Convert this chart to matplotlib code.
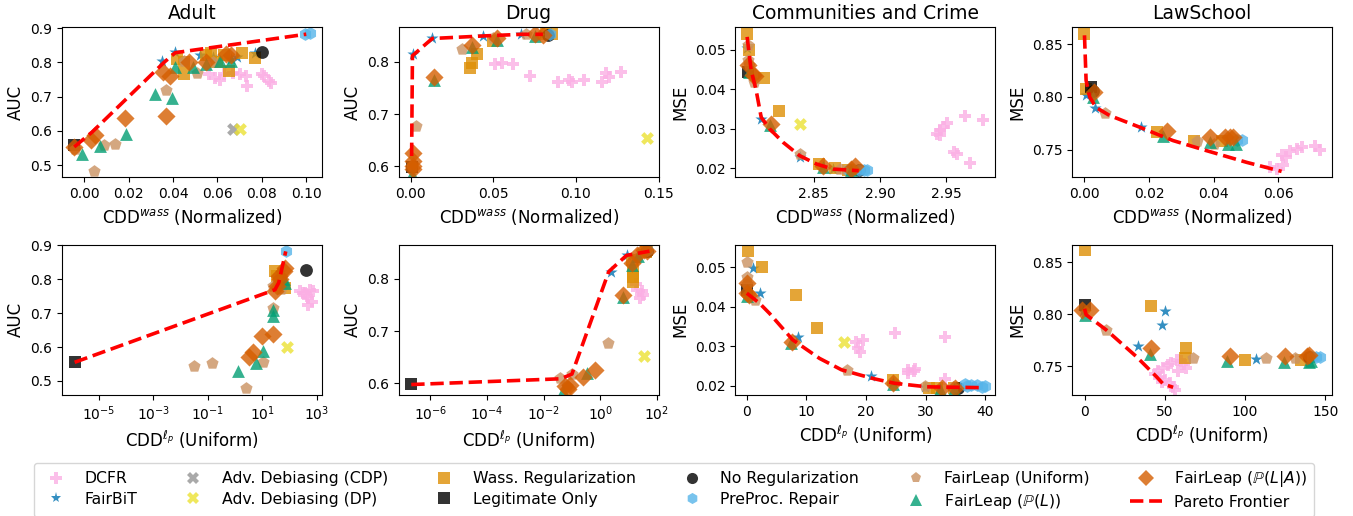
import matplotlib
matplotlib.use("Agg")
import matplotlib.pyplot as plt
from matplotlib.lines import Line2D
from matplotlib.ticker import NullLocator

# ---------------- styles (legend order) ----------------
methods = ["DCFR", "FairBiT", "Adv. Debiasing (CDP)", "Adv. Debiasing (DP)",
           "Wass. Regularization", "Legitimate Only", "No Regularization",
           "PreProc. Repair", "FairLeap (Uniform)",
           r"FairLeap ($\mathbb{P}(L)$)", r"FairLeap ($\mathbb{P}(L|A)$)"]
keys = ["dcfr", "fairbit", "adv_cdp", "adv_dp", "wass", "legit", "noreg",
        "preproc", "fl_unif", "fl_pl", "fl_pla"]
markers = ["P", "*", "X", "X", "s", "s", "o", "h", "p", "^", "D"]
colors = ["#fbafe4", "#0173b2", "#949494", "#ece133", "#de8f05", "black",
          "black", "#56b4e9", "#ca9161", "#029e73", "#d55e00"]

# ---------------- data: Adult, CDD^wass ----------------
adult_wass = {
    "dcfr": ([0.056, 0.059, 0.061, 0.063, 0.067, 0.070, 0.073, 0.0735, 0.080, 0.081, 0.083, 0.084],
             [0.765, 0.755, 0.748, 0.765, 0.768, 0.766, 0.760, 0.730, 0.767, 0.760, 0.745, 0.740]),
    "fairbit": ([0.035, 0.041, 0.052, 0.058, 0.066, 0.069, 0.077],
                [0.805, 0.830, 0.820, 0.815, 0.810, 0.815, 0.828]),
    "adv_cdp": ([0.067], [0.604]),
    "adv_dp": ([0.070], [0.606]),
    "wass": ([0.042, 0.045, 0.045, 0.055, 0.057, 0.060, 0.065, 0.071, 0.077, 0.063],
             [0.810, 0.800, 0.765, 0.820, 0.827, 0.800, 0.775, 0.828, 0.812, 0.820]),
    "legit": ([-0.0045], [0.558]),
    "noreg": ([0.080], [0.829]),
    "preproc": ([0.0995, 0.1015], [0.884, 0.885]),
    "fl_unif": ([-0.004, 0.0045, 0.009, 0.014, 0.037, 0.051, 0.045, 0.058],
                [0.547, 0.483, 0.558, 0.562, 0.718, 0.768, 0.805, 0.800]),
    "fl_pl": ([-0.001, 0.007, 0.019, 0.032, 0.0395, 0.041, 0.049, 0.055, 0.061, 0.066],
              [0.532, 0.557, 0.590, 0.708, 0.695, 0.787, 0.785, 0.795, 0.805, 0.805]),
    "fl_pla": ([-0.0045, 0.003, 0.005, 0.0185, 0.037, 0.0355, 0.0385, 0.047, 0.055, 0.064, 0.066],
               [0.553, 0.572, 0.587, 0.637, 0.643, 0.773, 0.760, 0.800, 0.800, 0.825, 0.820]),
}
adult_wass_pareto = ([-0.0045, 0.0035, 0.036, 0.041, 0.100], [0.553, 0.596, 0.800, 0.828, 0.882])

# ---------------- data: Drug, CDD^wass ----------------
drug_wass = {
    "dcfr": ([0.051, 0.055, 0.062, 0.072, 0.089, 0.0955, 0.0975, 0.1047, 0.1158, 0.1184, 0.127, 0.120],
             [0.797, 0.799, 0.796, 0.773, 0.762, 0.765, 0.762, 0.765, 0.762, 0.778, 0.781, 0.772]),
    "fairbit": ([0.0014, 0.013, 0.044, 0.0666], [0.815, 0.845, 0.850, 0.853]),
    "adv_cdp": ([], []),
    "adv_dp": ([0.143], [0.655]),
    "wass": ([0.036, 0.037, 0.040, 0.050, 0.0855, 0.082], [0.789, 0.799, 0.815, 0.841, 0.853, 0.853]),
    "legit": ([0.0005], [0.598]),
    "noreg": ([0.083], [0.852]),
    "preproc": ([0.084], [0.853]),
    "fl_unif": ([0.003, 0.031, 0.050, 0.070, 0.0005], [0.678, 0.825, 0.845, 0.853, 0.600]),
    "fl_pl": ([0.001, 0.014, 0.037, 0.052, 0.075], [0.585, 0.765, 0.828, 0.842, 0.850]),
    "fl_pla": ([0.0014, 0.0014, 0.0014, 0.0014, 0.014, 0.037, 0.052, 0.075, 0.080],
               [0.595, 0.600, 0.610, 0.625, 0.771, 0.832, 0.845, 0.853, 0.851]),
}
drug_wass_pareto = ([0.0005, 0.001, 0.013, 0.045, 0.067, 0.080], [0.620, 0.812, 0.845, 0.850, 0.853, 0.853])

# ---------------- data: Communities and Crime, CDD^wass ----------------
crime_wass = {
    "dcfr": ([2.943, 2.9455, 2.948, 2.9505, 2.9644, 2.9778, 2.9555, 2.958, 2.968, 2.945],
             [0.0287, 0.0296, 0.0304, 0.0314, 0.0331, 0.0322, 0.0240, 0.0236, 0.0213, 0.0285]),
    "fairbit": ([2.7995, 2.8104, 2.8394, 2.8646], [0.0503, 0.0325, 0.0228, 0.0198]),
    "adv_cdp": ([], []),
    "adv_dp": ([2.8399], [0.0311]),
    "wass": ([2.7998, 2.8015, 2.8129, 2.8237, 2.854, 2.866, 2.876],
             [0.0540, 0.0500, 0.0429, 0.0346, 0.0211, 0.0200, 0.0196]),
    "legit": ([2.8005], [0.0443]),
    "noreg": ([2.884], [0.0195]),
    "preproc": ([2.876, 2.880, 2.884, 2.888, 2.8905], [0.0195, 0.0196, 0.0195, 0.0196, 0.0195]),
    "fl_unif": ([2.8003, 2.8003, 2.8053, 2.8394, 2.8697, 2.801], [0.0511, 0.0473, 0.0418, 0.0236, 0.0198, 0.0460]),
    "fl_pl": ([2.8015, 2.817, 2.857, 2.8785], [0.0443, 0.0310, 0.0203, 0.0195]),
    "fl_pla": ([2.8003, 2.804, 2.806, 2.818, 2.857, 2.8785, 2.881],
               [0.0460, 0.0435, 0.0433, 0.0312, 0.0207, 0.0198, 0.0205]),
}
crime_wass_pareto = ([2.7998, 2.8028, 2.8066, 2.8104, 2.8167, 2.8268, 2.8394, 2.852, 2.8646, 2.884],
                     [0.0532, 0.0448, 0.0397, 0.0329, 0.0300, 0.0266, 0.0232, 0.0211, 0.0198, 0.0194])

# ---------------- data: LawSchool, CDD^wass ----------------
law_wass = {
    "dcfr": ([0.0574, 0.0595, 0.0615, 0.061, 0.0625, 0.0637, 0.0657, 0.0673, 0.0714, 0.073],
             [0.7332, 0.7316, 0.7350, 0.7450, 0.7430, 0.7490, 0.7506, 0.7522, 0.7538, 0.7500]),
    "fairbit": ([0.0005, 0.0034, 0.0174], [0.802, 0.7897, 0.7713]),
    "adv_cdp": ([], []),
    "adv_dp": ([], []),
    "wass": ([0.0, 0.0005, 0.0223, 0.0338, 0.0425], [0.860, 0.8078, 0.7665, 0.7586, 0.7586]),
    "legit": ([0.002], [0.8094]),
    "noreg": ([0.0025], [0.806]),
    "preproc": ([0.0471, 0.0486], [0.759, 0.759]),
    "fl_unif": ([0.0062, 0.0347, 0.040], [0.7846, 0.7586, 0.755]),
    "fl_pl": ([0.0026, 0.0243, 0.0388, 0.0445, 0.047], [0.800, 0.7633, 0.757, 0.7554, 0.7554]),
    "fl_pla": ([0.0029, 0.0254, 0.0388, 0.0435, 0.045, 0.046], [0.8052, 0.768, 0.7617, 0.7617, 0.7617, 0.762]),
}
law_wass_pareto = ([0.0, 0.0005, 0.0016, 0.0036, 0.0078, 0.0171, 0.0274, 0.0378, 0.0502, 0.061],
                   [0.8586, 0.8157, 0.800, 0.790, 0.7824, 0.7713, 0.7586, 0.749, 0.7379, 0.7293])

# ---------------- data: Adult, CDD^lp ----------------
adult_lp = {
    "dcfr": ([240, 370, 560, 490, 650, 490, 300, 700, 450], [0.764, 0.759, 0.769, 0.744, 0.734, 0.725, 0.760, 0.765, 0.750]),
    "fairbit": ([45], [0.820]),
    "adv_cdp": ([], []),
    "adv_dp": ([83], [0.601]),
    "wass": ([30, 40, 70, 35], [0.823, 0.800, 0.775, 0.810]),
    "legit": ([1.3e-6], [0.555]),
    "noreg": ([400], [0.828]),
    "preproc": ([72], [0.882]),
    "fl_unif": ([0.031, 0.145, 2.5, 11, 25, 25, 50], [0.544, 0.554, 0.478, 0.557, 0.715, 0.780, 0.770]),
    "fl_pl": ([1.3, 5.9, 11, 25, 25, 70, 60], [0.529, 0.552, 0.587, 0.710, 0.692, 0.790, 0.800]),
    "fl_pla": ([3.1, 4.7, 9.3, 25, 29, 45, 60, 70, 40, 35], [0.570, 0.584, 0.633, 0.639, 0.764, 0.800, 0.823, 0.833, 0.810, 0.780]),
}
adult_lp_pareto = ([1.3e-6, 29, 40, 72], [0.555, 0.769, 0.790, 0.882])

# ---------------- data: Drug, CDD^lp ----------------
drug_lp = {
    "dcfr": ([20, 30, 25, 18, 32], [0.779, 0.776, 0.763, 0.790, 0.770]),
    "fairbit": ([2.4, 8.7], [0.814, 0.846]),
    "adv_cdp": ([], []),
    "adv_dp": ([34], [0.653]),
    "wass": ([14, 14, 14, 13, 45, 40], [0.817, 0.804, 0.795, 0.837, 0.856, 0.851]),
    "legit": ([2.1e-7], [0.599]),
    "noreg": ([44], [0.854]),
    "preproc": ([45], [0.855]),
    "fl_unif": ([0.039, 0.1, 1.95, 0.065, 20], [0.610, 0.619, 0.677, 0.596, 0.840]),
    "fl_pl": ([0.05, 0.33, 6.6, 13, 22], [0.586, 0.621, 0.766, 0.827, 0.844]),
    "fl_pla": ([0.058, 0.087, 0.25, 0.65, 6.6, 13, 20, 35, 45, 0.07],
               [0.595, 0.598, 0.613, 0.626, 0.769, 0.830, 0.846, 0.856, 0.853, 0.589]),
}
drug_lp_pareto = ([2.1e-7, 0.04, 0.1, 2.0, 8.5, 55], [0.598, 0.609, 0.618, 0.814, 0.845, 0.853])

# ---------------- data: Communities and Crime, CDD^lp ----------------
crime_lp = {
    "dcfr": ([18.4, 19.5, 18.7, 19.0, 24.8, 33.3, 27.1, 28.0, 28.3, 33.3, 27.0],
             [0.0311, 0.0316, 0.0295, 0.0286, 0.0333, 0.0324, 0.0240, 0.0238, 0.0241, 0.0218, 0.0232]),
    "fairbit": ([1.0, 2.2, 8.6, 20.8, 24.6, 29.9], [0.0497, 0.0434, 0.0324, 0.0224, 0.0210, 0.0196]),
    "adv_cdp": ([], []),
    "adv_dp": ([16.3], [0.0310]),
    "wass": ([0.2, 2.6, 8.3, 11.7, 24.5, 30.5, 32.0, 34.7],
             [0.0542, 0.0500, 0.0430, 0.0345, 0.0214, 0.0193, 0.0193, 0.0193]),
    "legit": ([0.0], [0.0443]),
    "noreg": ([35.5], [0.0194]),
    "preproc": ([36.6, 37.7, 38.6, 39.4, 40.0, 37.0], [0.0204, 0.0202, 0.0201, 0.0197, 0.0199, 0.0199]),
    "fl_unif": ([0.0, 0.0, 1.3, 16.8, 29.9, 34.6, 0.0], [0.0512, 0.0476, 0.0417, 0.0240, 0.0199, 0.0197, 0.0458]),
    "fl_pl": ([0.0, 7.4, 24.6, 32.4, 34.7], [0.0428, 0.0308, 0.0203, 0.0192, 0.0192]),
    "fl_pla": ([0.0, 0.0, 0.3, 7.6, 24.6, 32.7, 34.9], [0.0461, 0.0434, 0.0430, 0.0310, 0.0207, 0.0193, 0.0193]),
}
crime_lp_pareto = ([0.0, 2.1, 3.8, 7.7, 12.2, 15.9, 19.0, 21.2, 24.8, 30.2, 39.1],
                   [0.0434, 0.0409, 0.0383, 0.0316, 0.0269, 0.0240, 0.0227, 0.0218, 0.0206, 0.0197, 0.0195])

# ---------------- data: LawSchool, CDD^lp ----------------
law_lp = {
    "dcfr": ([43.75, 45.8, 49, 52, 54, 57.3, 46.9, 50, 53, 55.2, 48, 63.5, 56.3, 60, 58, 62],
             [0.7426, 0.745, 0.748, 0.7513, 0.7535, 0.756, 0.740, 0.7368, 0.7336, 0.7304, 0.735, 0.748, 0.7272, 0.755, 0.745, 0.752]),
    "fairbit": ([50, 48.5, 33.3, 106.7, -1.0], [0.8027, 0.790, 0.7696, 0.7574, 0.803]),
    "adv_cdp": ([], []),
    "adv_dp": ([], []),
    "wass": ([0.0, 41.3, 63.1, 62.5, 100, 135], [0.8616, 0.8082, 0.7674, 0.7577, 0.7561, 0.756]),
    "legit": ([0.0], [0.8092]),
    "noreg": ([140], [0.759]),
    "preproc": ([141.7, 146.9, 144], [0.7587, 0.7587, 0.7585]),
    "fl_unif": ([13.5, 67.7, 113, 131], [0.785, 0.7584, 0.7577, 0.7577]),
    "fl_pl": ([0.0, 40.6, 88.5, 124, 139.6, 141], [0.7995, 0.7619, 0.7552, 0.7545, 0.7545, 0.755]),
    "fl_pla": ([-1.5, 3.1, 41.3, 90.6, 125, 138.5, 139.6], [0.8044, 0.8044, 0.7674, 0.760, 0.760, 0.760, 0.761]),
}
law_lp_pareto = ([0.0, 1.0, 13.5, 32.3, 44.8, 49, 55.2], [0.8053, 0.7995, 0.785, 0.7593, 0.740, 0.733, 0.7298])

titles = ["Adult", "Drug", "Communities and Crime", "LawSchool"]
ylabels = ["AUC", "AUC", "MSE", "MSE"]
xlabel_top = r"CDD$^{wass}$ (Normalized)"
xlabel_bot = r"CDD$^{\ell_p}$ (Uniform)"

# ---------------- figure ----------------
fig, axes = plt.subplots(2, 4, figsize=(13.53, 5.16), dpi=100)
fig.subplots_adjust(left=62/1353, right=1332/1353, top=1-27/516, bottom=1-395/516,
                    wspace=77/260, hspace=67/150)

panels = [
    (axes[0, 0], adult_wass, adult_wass_pareto),
    (axes[0, 1], drug_wass, drug_wass_pareto),
    (axes[0, 2], crime_wass, crime_wass_pareto),
    (axes[0, 3], law_wass, law_wass_pareto),
    (axes[1, 0], adult_lp, adult_lp_pareto),
    (axes[1, 1], drug_lp, drug_lp_pareto),
    (axes[1, 2], crime_lp, crime_lp_pareto),
    (axes[1, 3], law_lp, law_lp_pareto),
]

S = 85
for ax, data, pareto in panels:
    for k, m, c in zip(keys, markers, colors):
        xs, ys = data[k]
        if len(xs):
            ax.scatter(xs, ys, marker=m, color=c, s=S, alpha=0.8, linewidths=0)
    ax.plot(pareto[0], pareto[1], color="red", linestyle="--", linewidth=2.6, zorder=5)
    ax.tick_params(labelsize=10)

for j in range(4):
    axes[0, j].set_title(titles[j], fontsize=13.5)
    axes[0, j].set_ylabel(ylabels[j], fontsize=12)
    axes[1, j].set_ylabel(ylabels[j], fontsize=12)
    axes[0, j].set_xlabel(xlabel_top, fontsize=12)
    axes[1, j].set_xlabel(xlabel_bot, fontsize=12)

# limits and ticks
a = axes[0, 0]; a.set_xlim(-0.010, 0.107); a.set_ylim(0.464, 0.903)
a.set_xticks([0.00, 0.02, 0.04, 0.06, 0.08, 0.10]); a.set_yticks([0.5, 0.6, 0.7, 0.8, 0.9])
a = axes[0, 1]; a.set_xlim(-0.0073, 0.150); a.set_ylim(0.579, 0.867)
a.set_xticks([0.00, 0.05, 0.10, 0.15]); a.set_yticks([0.6, 0.7, 0.8])
a = axes[0, 2]; a.set_xlim(2.791, 2.987); a.set_ylim(0.0177, 0.0557)
a.set_xticks([2.85, 2.90, 2.95]); a.set_yticks([0.02, 0.03, 0.04, 0.05])
a = axes[0, 3]; a.set_xlim(-0.0038, 0.0766); a.set_ylim(0.7236, 0.8665)
a.set_xticks([0.00, 0.02, 0.04, 0.06]); a.set_yticks([0.75, 0.80, 0.85])

a = axes[1, 0]; a.set_xscale("log"); a.set_xlim(10**-6.35, 10**3.18); a.set_ylim(0.4586, 0.902)
a.set_xticks([1e-5, 1e-3, 1e-1, 1e1, 1e3]); a.xaxis.set_minor_locator(NullLocator())
a.set_yticks([0.5, 0.6, 0.7, 0.8, 0.9])
a = axes[1, 1]; a.set_xscale("log"); a.set_xlim(10**-7.12, 10**2.06); a.set_ylim(0.578, 0.8656)
a.set_xticks([1e-6, 1e-4, 1e-2, 1e0, 1e2]); a.xaxis.set_minor_locator(NullLocator())
a.set_yticks([0.6, 0.7, 0.8])
a = axes[1, 2]; a.set_xlim(-1.9, 41.7); a.set_ylim(0.01763, 0.0557)
a.set_xticks([0, 10, 20, 30, 40]); a.set_yticks([0.02, 0.03, 0.04, 0.05])
a = axes[1, 3]; a.set_xlim(-7.7, 154.2); a.set_ylim(0.7224, 0.867)
a.set_xticks([0, 50, 100, 150]); a.set_yticks([0.75, 0.80, 0.85])

# legend
handles = [Line2D([], [], marker=m, color=c, linestyle="None", markersize=8,
                  alpha=0.8, markeredgewidth=0) for m, c in zip(markers, colors)]
handles.append(Line2D([], [], color="red", linestyle="--", linewidth=2.6))
labels = methods + ["Pareto Frontier"]
fig.legend(handles, labels, loc="upper center", bbox_to_anchor=(674/1353, 1-455/516),
           ncol=6, fontsize=11.3, columnspacing=2.6, handlelength=2.0, labelspacing=0.35,
           frameon=True)

fig.savefig("out.png", dpi=100)
